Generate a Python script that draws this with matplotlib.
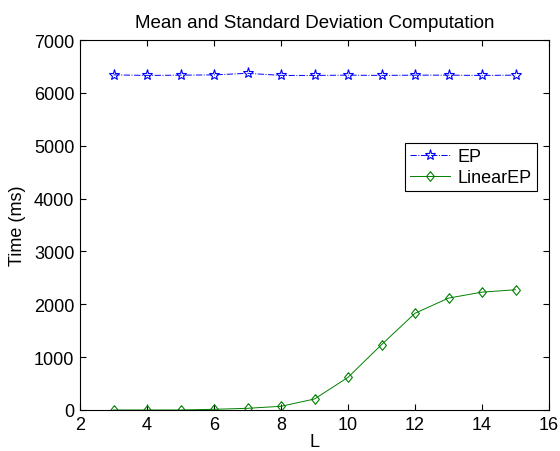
import numpy as np
import matplotlib
matplotlib.use('Agg')
import matplotlib.pyplot as plt

plt.rcParams['font.family'] = ['Liberation Sans', 'DejaVu Sans']

L = [3, 4, 5, 6, 7, 8, 9, 10, 11, 12, 13, 14, 15]
ep = [6340, 6330, 6335, 6340, 6370, 6330, 6330, 6335, 6330, 6335, 6335, 6330, 6335]
linear_ep = [0, 0, 0, 13, 32, 70, 208, 618, 1235, 1830, 2117, 2230, 2275]

# matlab-style diamond (a bit narrower than tall)
diamond = [(0, 1), (0.8, 0), (0, -1), (-0.8, 0), (0, 1)]

fig = plt.figure(figsize=(5.6, 4.52), dpi=100)
ax = fig.add_axes([80 / 560, 1 - 411 / 452, 469 / 560, 370 / 452])

ax.plot(L, ep, color='blue', linestyle='-.', linewidth=0.7, marker='*',
        markersize=8, markerfacecolor='none', markeredgecolor='blue',
        markeredgewidth=0.8, label='EP')
ax.plot(L, linear_ep, color='green', linestyle='-', linewidth=0.7, marker=diamond,
        markersize=7, markerfacecolor='none', markeredgecolor='green',
        markeredgewidth=0.8, label='LinearEP')

ax.set_xlim(2, 16)
ax.set_ylim(0, 7000)
ax.set_xticks(range(2, 17, 2))
ax.set_yticks(range(0, 7001, 1000))
ax.tick_params(direction='in', top=True, right=True, labelsize=13, length=4, pad=4)
ax.set_xlabel('L', fontsize=13, labelpad=0)
ax.set_ylabel('Time (ms)', fontsize=13, labelpad=6)
ax.set_title('Mean and Standard Deviation Computation', fontsize=13.5, pad=9)

leg = ax.legend(loc='upper right', bbox_to_anchor=(0.974, 0.722), fontsize=13,
                fancybox=False, framealpha=1, edgecolor='black',
                handlelength=2.2, handletextpad=0.4, borderpad=0.3,
                labelspacing=0.2, borderaxespad=0)
leg.get_frame().set_linewidth(0.8)

plt.savefig('out.png', dpi=100)
